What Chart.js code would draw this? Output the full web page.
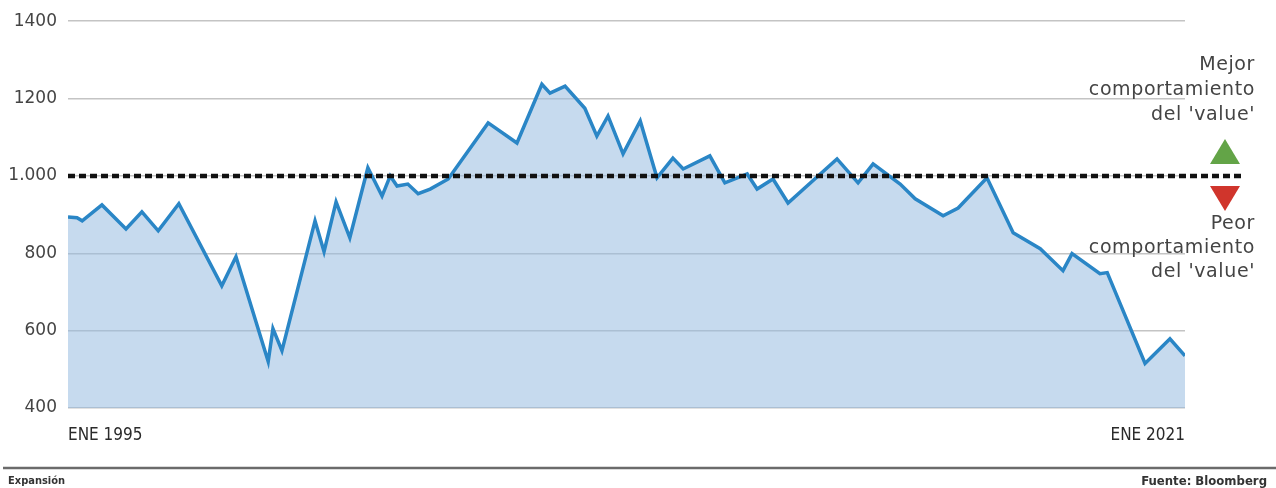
<!DOCTYPE html>
<html lang="es">
<head>
<meta charset="utf-8">
<title>Value vs growth</title>
<script src="https://cdn.jsdelivr.net/npm/chart.js@4.4.1/dist/chart.umd.min.js"></script>
<style>
    html, body { margin: 0; padding: 0; background: #fff; }
    #wrap { position: relative; width: 1276px; height: 488px; }
</style>
</head>
<body>
<div id="wrap"><canvas id="grafico"></canvas></div>
<script>
// ============================================
// DATOS
// ============================================
// fecha en años decimales, ENE 1995 -> ENE 2021
const fechas = [
    1995.00, 1995.21, 1995.33, 1995.79, 1996.35, 1996.72, 1997.10, 1997.58,
    1998.58, 1998.91, 1999.66, 1999.77, 1999.98, 2000.75, 2000.96, 2001.24,
    2001.56, 2001.98, 2002.31, 2002.50, 2002.66, 2002.91, 2003.15, 2003.43,
    2003.85, 2004.78, 2005.45, 2006.03, 2006.22, 2006.57, 2007.03, 2007.31,
    2007.57, 2007.92, 2008.32, 2008.71, 2009.08, 2009.32, 2009.94, 2010.29,
    2010.81, 2011.04, 2011.41, 2011.76, 2012.90, 2013.39, 2013.74, 2014.37,
    2014.72, 2015.37, 2015.72, 2016.39, 2017.00, 2017.63, 2018.16, 2018.37,
    2019.02, 2019.19, 2020.07, 2020.65, 2021.00
];
const valores = [
    894, 892, 884, 925, 863, 907, 858, 928,
    716, 791, 520, 605, 548, 884, 804, 933,
    840, 1021, 948, 1000, 974, 979, 954, 966,
    992, 1137, 1085, 1237, 1214, 1232, 1175, 1103,
    1155, 1057, 1142, 995, 1046, 1018, 1052, 982,
    1005, 966, 992, 930, 1044, 982, 1031, 979,
    941, 897, 917, 995, 853, 812, 755, 799,
    747, 750, 515, 579, 535
];

const ejeYTicks = [400, 600, 800, 1000, 1200, 1400];
const ejeYEtiquetas = ['400', '600', '800', '1.000', '1200', '1400'];
const ejeXTicks = [1995, 2021];
const ejeXEtiquetas = ['ENE 1995', 'ENE 2021'];
const nivelReferencia = 1000;
const textoMejor = ['Mejor', 'comportamiento', "del 'value'"];
const textoPeor = ['Peor', 'comportamiento', "del 'value'"];
const fuenteIzq = 'Expansión';
const fuenteDer = 'Fuente: Bloomberg';

// ============================================
// PLUGIN: línea punteada, flechas y pie
// ============================================
const FONT = '"DejaVu Sans", "Liberation Sans", sans-serif';
const FONT_COND = '"DejaVu Sans Condensed", "Liberation Sans Narrow", "DejaVu Sans", sans-serif';

const extrasPlugin = {
    id: 'extras',
    afterDatasetsDraw(chart) {
        const { ctx, chartArea, scales } = chart;
        const y = Math.round(scales.y.getPixelForValue(nivelReferencia));
        ctx.save();
        ctx.strokeStyle = '#111';
        ctx.lineWidth = 4.5;
        ctx.setLineDash([7, 4]);
        ctx.beginPath();
        ctx.moveTo(chartArea.left, y);
        ctx.lineTo(chartArea.right + 60, y);
        ctx.stroke();
        ctx.restore();
    },
    afterDraw(chart) {
        const { ctx, chartArea, scales, width, height } = chart;
        const y = scales.y.getPixelForValue(nivelReferencia);
        const xr = chartArea.right + 70;
        ctx.save();

        // textos laterales
        ctx.fillStyle = '#444';
        ctx.font = '19px ' + FONT;
        ctx.letterSpacing = '0.6px';
        ctx.textAlign = 'right';
        ctx.textBaseline = 'alphabetic';
        textoMejor.forEach((t, i) => ctx.fillText(t, xr, y - 106 + i * 25));
        textoPeor.forEach((t, i) => ctx.fillText(t, xr, y + 53 + i * 24));
        ctx.letterSpacing = '0px';

        // triángulos
        const cx = chartArea.right + 40;
        ctx.fillStyle = '#63a447';
        ctx.beginPath();
        ctx.moveTo(cx - 15, y - 12);
        ctx.lineTo(cx + 15, y - 12);
        ctx.lineTo(cx, y - 37);
        ctx.closePath();
        ctx.fill();
        ctx.fillStyle = '#d0352c';
        ctx.beginPath();
        ctx.moveTo(cx - 15, y + 10);
        ctx.lineTo(cx + 15, y + 10);
        ctx.lineTo(cx, y + 35);
        ctx.closePath();
        ctx.fill();

        // pie
        ctx.strokeStyle = '#6b6b6b';
        ctx.lineWidth = 2.5;
        ctx.beginPath();
        ctx.moveTo(3, height - 20);
        ctx.lineTo(width, height - 20);
        ctx.stroke();

        ctx.fillStyle = '#333';
        ctx.font = 'bold 11px ' + FONT_COND;
        ctx.textAlign = 'left';
        ctx.fillText(fuenteIzq, 8, height - 4);
        ctx.font = 'bold 13px ' + FONT_COND;
        ctx.textAlign = 'right';
        ctx.fillText(fuenteDer, width - 9, height - 3);
        ctx.restore();
    }
};

// ============================================
// GRÁFICO
// ============================================
const puntos = fechas.map((f, i) => ({ x: f, y: valores[i] }));

new Chart(document.getElementById('grafico'), {
    type: 'line',
    data: {
        datasets: [{
            data: puntos,
            borderColor: '#2a86c6',
            backgroundColor: 'rgba(151, 188, 224, 0.55)',
            borderWidth: 3.5,
            fill: 'start',
            tension: 0,
            pointRadius: 0,
            borderJoinStyle: 'miter'
        }]
    },
    options: {
        responsive: true,
        maintainAspectRatio: false,
        animation: false,
        layout: { padding: { top: 20, right: 91, bottom: 0, left: 0 } },
        plugins: {
            legend: { display: false },
            tooltip: { enabled: false }
        },
        scales: {
            x: {
                type: 'linear',
                min: 1995,
                max: 2021,
                afterBuildTicks: (axis) => { axis.ticks = ejeXTicks.map(v => ({ value: v })); },
                afterFit: (axis) => { axis.height = 80; },
                grid: { display: false, drawTicks: false },
                border: { display: false },
                ticks: {
                    align: 'inner',
                    padding: 17,
                    maxRotation: 0,
                    color: '#2a2a2a',
                    font: { family: FONT_COND, size: 17 },
                    callback: (v) => ejeXEtiquetas[ejeXTicks.indexOf(v)]
                }
            },
            y: {
                min: 400,
                max: 1400,
                afterBuildTicks: (axis) => { axis.ticks = ejeYTicks.map(v => ({ value: v })); },
                afterFit: (axis) => { axis.width = 68; },
                grid: { color: '#c4c4c4', lineWidth: 1.5, drawTicks: false },
                border: { display: false },
                ticks: {
                    padding: 11,
                    color: '#444',
                    font: { family: FONT, size: 17 },
                    callback: (v) => ejeYEtiquetas[ejeYTicks.indexOf(v)]
                }
            }
        }
    },
    plugins: [extrasPlugin]
});
</script>
</body>
</html>
